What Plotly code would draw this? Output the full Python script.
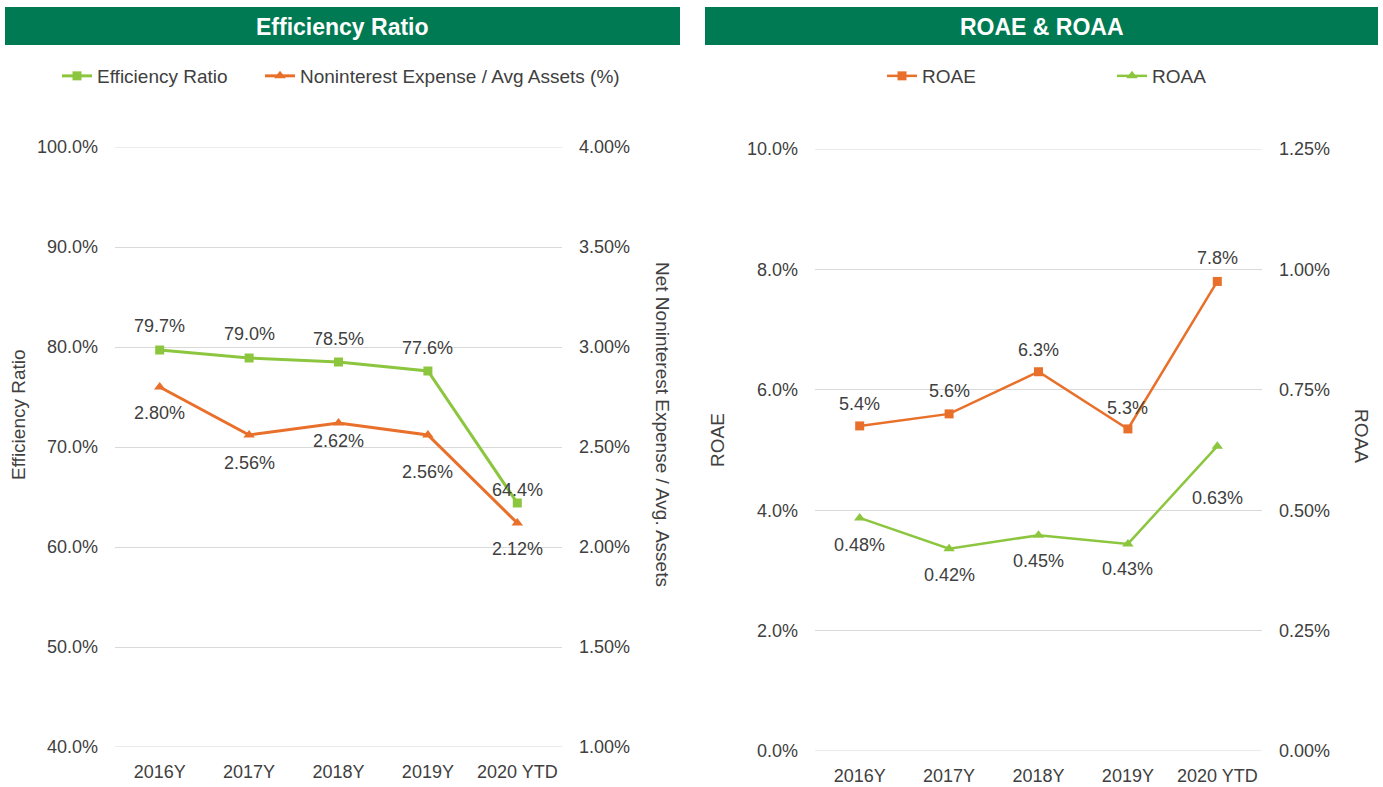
import plotly.graph_objects as go

W, H = 1383, 787

categories = ["2016Y", "2017Y", "2018Y", "2019Y", "2020 YTD"]
efficiency_ratio = [79.7, 78.9, 78.5, 77.6, 64.4]
nonint_exp_avg_assets = [2.80, 2.56, 2.62, 2.56, 2.12]
roae = [5.4, 5.6, 6.3, 5.35, 7.8]
roaa = [0.484, 0.42, 0.448, 0.43, 0.633]

eff_labels = ["79.7%", "79.0%", "78.5%", "77.6%", "64.4%"]
nonint_labels = ["2.80%", "2.56%", "2.62%", "2.56%", "2.12%"]
roae_labels = ["5.4%", "5.6%", "6.3%", "5.3%", "7.8%"]
roaa_labels = ["0.48%", "0.42%", "0.45%", "0.43%", "0.63%"]

# label offsets in pixels (positive = up)
eff_label_dy = [24, 24, 23, 23, 13]
nonint_label_dy = [-26, -28, -18, -37, -26]
roae_label_dy = [22, 23, 22, 21, 23]
roaa_label_dy = [-27, -26, -26, -25, -52]

GREEN = "#8CC63F"
ORANGE = "#E8702A"
BAR = "#007A53"
TXT = "#404040"
GRID = "#D9D9D9"
FONT = "Liberation Sans, Arial, sans-serif"


def px(x):
    return x / W


def py(y):
    return 1 - y / H


fig = go.Figure()

fig.add_trace(go.Scatter(x=categories, y=efficiency_ratio, name="Efficiency Ratio",
                         mode="lines+markers", xaxis="x", yaxis="y",
                         line=dict(color=GREEN, width=3),
                         marker=dict(symbol="square", size=9, color=GREEN),
                         legend="legend"))
fig.add_trace(go.Scatter(x=categories, y=nonint_exp_avg_assets,
                         name="Noninterest Expense / Avg Assets (%)",
                         mode="lines+markers", xaxis="x", yaxis="y2",
                         line=dict(color=ORANGE, width=3),
                         marker=dict(symbol="triangle-up", size=10, color=ORANGE),
                         legend="legend2"))
fig.add_trace(go.Scatter(x=categories, y=roae, name="ROAE",
                         mode="lines+markers", xaxis="x2", yaxis="y3",
                         line=dict(color=ORANGE, width=2.5),
                         marker=dict(symbol="square", size=9, color=ORANGE),
                         legend="legend3"))
fig.add_trace(go.Scatter(x=categories, y=roaa, name="ROAA",
                         mode="lines+markers", xaxis="x2", yaxis="y4",
                         line=dict(color=GREEN, width=2.5),
                         marker=dict(symbol="triangle-up", size=10, color=GREEN),
                         legend="legend4"))

annotations = []
shapes = []


def labels(vals, texts, dys, xref, yref):
    for c, v, t, d in zip(categories, vals, texts, dys):
        annotations.append(dict(x=c, y=v, xref=xref, yref=yref, text=t,
                                showarrow=False, yshift=d,
                                font=dict(size=18, color=TXT, family=FONT)))


labels(efficiency_ratio, eff_labels, eff_label_dy, "x", "y")
labels(nonint_exp_avg_assets, nonint_labels, nonint_label_dy, "x", "y2")
labels(roae, roae_labels, roae_label_dy, "x2", "y3")
labels(roaa, roaa_labels, roaa_label_dy, "x2", "y4")

# title bars
for (x0, x1, title) in [(5, 680, "Efficiency Ratio"), (705, 1378, "ROAE &amp; ROAA")]:
    shapes.append(dict(type="rect", xref="paper", yref="paper",
                       x0=px(x0), x1=px(x1), y0=py(45), y1=py(7),
                       fillcolor=BAR, line=dict(width=0), layer="below"))
    annotations.append(dict(x=px((x0 + x1) / 2), y=py(27), xref="paper", yref="paper",
                            text="<b>" + title + "</b>", showarrow=False,
                            font=dict(size=23, color="white", family=FONT),
                            xanchor="center", yanchor="middle"))

# edge gridlines (plotly omits gridlines at the range boundaries)
y_range_left = [40, 100]
y_range_right = [0, 10]
for yref, rng in [("y", y_range_left), ("y3", y_range_right)]:
    xdom = "x domain" if yref == "y" else "x2 domain"
    for v in rng:
        shapes.append(dict(type="line", xref=xdom, yref=yref, x0=0, x1=1, y0=v, y1=v,
                           line=dict(color=GRID, width=1), layer="below"))

# axis titles
for (x, y, t, ang) in [(18, 415, "Efficiency Ratio", -90),
                       (662, 424, "Net Noninterest Expense / Avg. Assets", 90),
                       (717, 440, "ROAE", -90),
                       (1362, 436, "ROAA", 90)]:
    annotations.append(dict(x=px(x), y=py(y), xref="paper", yref="paper", text=t,
                            textangle=ang, showarrow=False,
                            font=dict(size=19, color=TXT, family=FONT),
                            xanchor="center", yanchor="middle"))

tickfont = dict(size=18, color=TXT, family=FONT)

common_x = dict(showgrid=False, showline=False, zeroline=False, ticks="",
                tickfont=tickfont, ticklabelstandoff=12, fixedrange=True,
                range=[-0.5, len(categories) - 0.5])
common_y = dict(showline=False, zeroline=False, ticks="", tickfont=tickfont,
                ticklabelstandoff=16)


def leg(xpix):
    return dict(orientation="h", x=px(xpix), y=py(76), xanchor="left", yanchor="middle",
                font=dict(size=19, color=TXT, family=FONT), bgcolor="rgba(0,0,0,0)",
                itemwidth=30)


fig.update_layout(
    width=W, height=H,
    margin=dict(l=0, r=0, t=0, b=0, pad=0, autoexpand=False),
    paper_bgcolor="white", plot_bgcolor="white",
    font=dict(family=FONT, color=TXT),
    showlegend=True,
    xaxis=dict(domain=[px(115), px(562)], anchor="y", **common_x),
    yaxis=dict(domain=[py(747), py(147)], anchor="x", range=y_range_left, dtick=10,
               tick0=40, tickformat=".1f", ticksuffix="%", gridcolor=GRID, **common_y),
    yaxis2=dict(overlaying="y", side="right", anchor="x", range=[1, 4], dtick=0.5,
                tick0=1, tickformat=".2f", ticksuffix="%", showgrid=False, **common_y),
    xaxis2=dict(domain=[px(815), px(1262)], anchor="y3", **common_x),
    yaxis3=dict(domain=[py(751), py(149)], anchor="x2", range=y_range_right, dtick=2,
                tick0=0, tickformat=".1f", ticksuffix="%", gridcolor=GRID, **common_y),
    yaxis4=dict(overlaying="y3", side="right", anchor="x2", range=[0, 1.25], dtick=0.25,
                tick0=0, tickformat=".2f", ticksuffix="%", showgrid=False, **common_y),
    legend=leg(57),
    legend2=leg(260),
    legend3=leg(882),
    legend4=leg(1112),
    annotations=annotations,
    shapes=shapes,
)

fig.write_html("out.html",
               config={"displayModeBar": False},
               post_script="document.body.style.margin='0';"
                           "document.body.style.overflow='hidden';")
